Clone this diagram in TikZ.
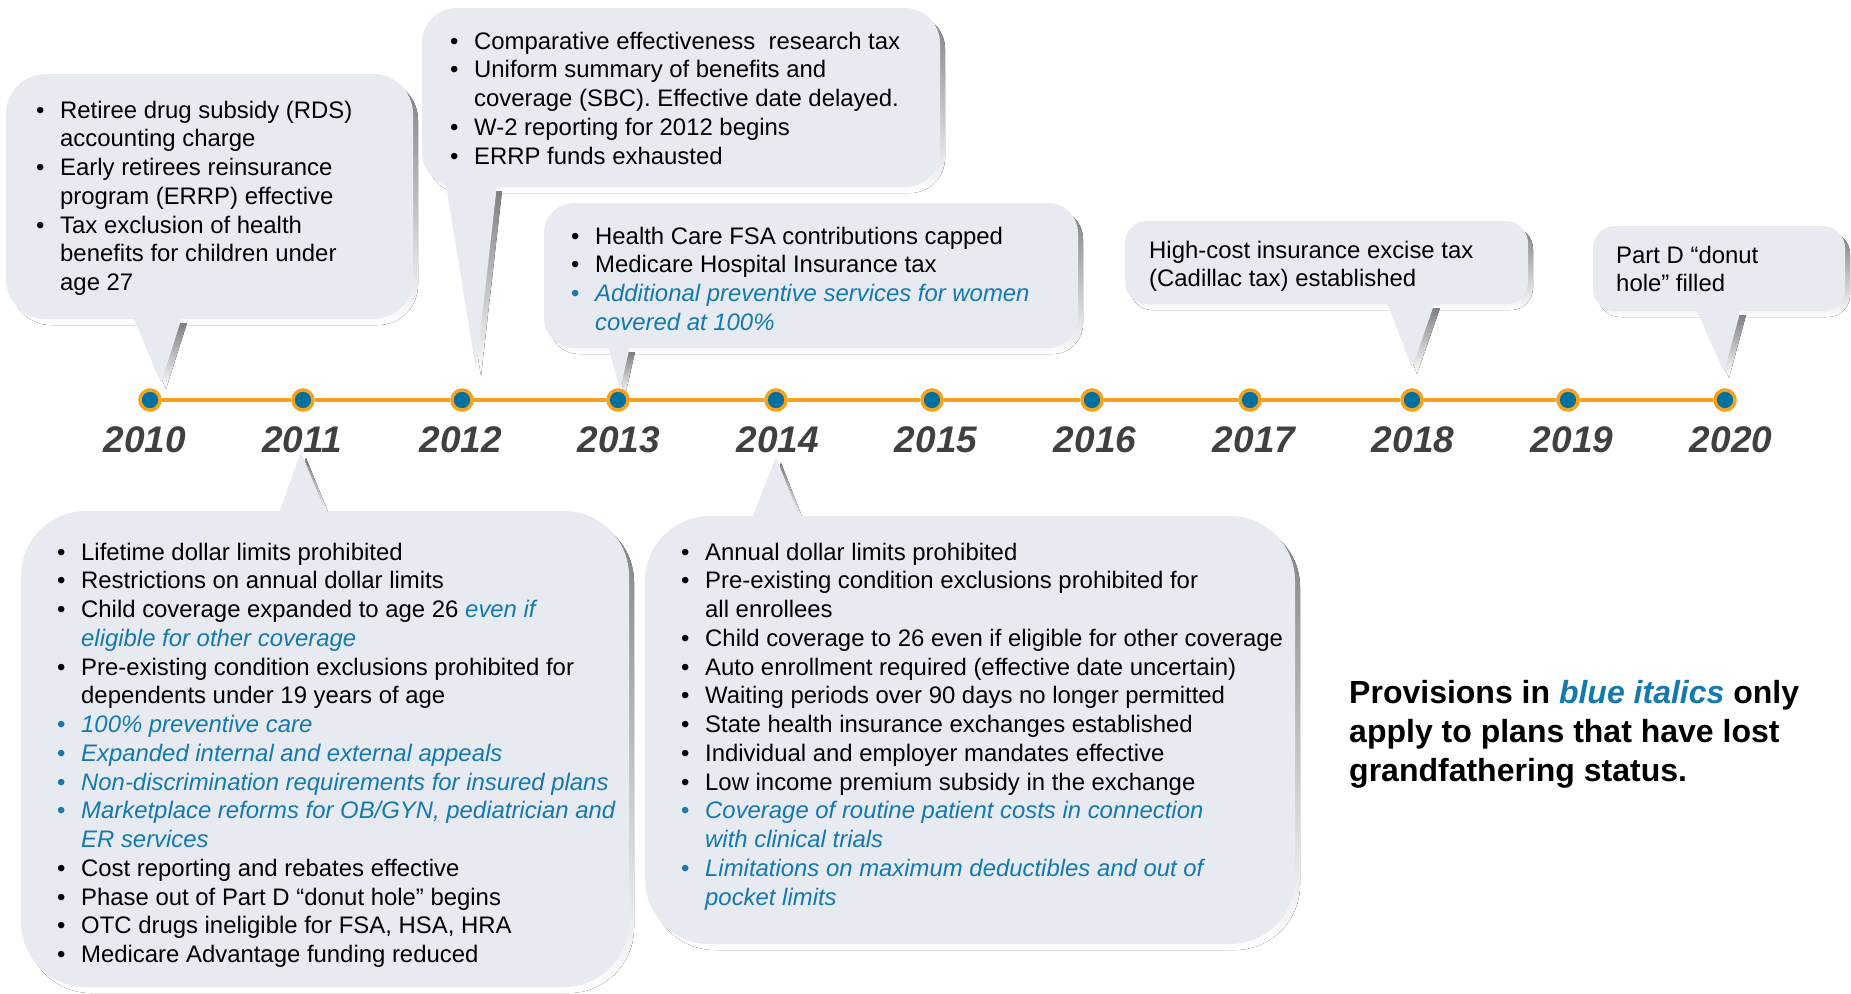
\documentclass[tikz,border=0pt]{standalone}
\usepackage{fontspec}
\setmainfont{Liberation Sans}
\usepackage{xcolor}
\definecolor{boxfill}{HTML}{E7EAF1}
\definecolor{shade}{HTML}{BEBEBE}
\definecolor{blu}{HTML}{1479AE}
\definecolor{orng}{HTML}{F7A01C}
\definecolor{dotblue}{HTML}{00709F}
\definecolor{yeargray}{HTML}{404040}

\newcommand\bi[1]{\par\hangindent=24pt\hangafter=1\noindent\makebox[24pt][l]{•}{\let\\\newline #1}}
\newcommand\bb[1]{\par\hangindent=24pt\hangafter=1\noindent{\color{blu}\makebox[24pt][l]{•}\itshape\let\\\newline #1}}
\newcommand\blu[1]{{\color{blu}\itshape #1}}

% #1,#2 rectangle corners, #3 radius, #4,#5 pointer base, #6 tip
\newcommand\callout[6]{%
  \fill[shade, shift={(5,6)}, rounded corners=#3] #1 rectangle #2;
  \fill[shade, shift={(5,6)}] #4 -- #6 -- #5 -- cycle;
  \fill[boxfill, rounded corners=#3] #1 rectangle #2;
  \fill[boxfill] #4 -- #6 -- #5 -- cycle;
}

\tikzset{
  txt/.style={anchor=base west, inner sep=0pt, font=\fontsize{23.9}{28.76}\selectfont},
  dotst/.style={circle, minimum size=20pt, inner sep=0pt, fill=dotblue, draw=orng, line width=3.5pt},
  tl/.style={draw=orng, line width=4pt},
  yearst/.style={anchor=base, inner sep=0pt, text=yeargray, font=\fontsize{37}{42}\selectfont\bfseries\itshape},
}

\begin{document}
\begin{tikzpicture}[x=1pt, y=-1pt]
\useasboundingbox (0,0) rectangle (1851,993);

% ---- callouts ----
\callout{(6,74)}{(413,319)}{40pt}{(133,317)}{(182,317)}{(161,383)}
\callout{(422,8)}{(940,187)}{35pt}{(446,185)}{(497,185)}{(476,370)}
\callout{(544,203)}{(1078,348)}{30pt}{(608,346)}{(630,346)}{(620,390)}
\callout{(1125,221)}{(1528,304)}{22pt}{(1387,302)}{(1435,302)}{(1412,368)}
\callout{(1593,226)}{(1845,311)}{22pt}{(1696,309)}{(1741,309)}{(1724,372)}
\callout{(21,511)}{(629,987)}{65pt}{(279,513)}{(326,513)}{(301,452)}
\callout{(645,516)}{(1295,944)}{65pt}{(752,518)}{(800,518)}{(776,457)}

% ---- timeline ----
\foreach \yr/\xx in {2010/150,2011/303,2012/462,2013/618,2014/776,2015/932,2016/1092,2017/1250,2018/1412,2019/1568,2020/1725}{
  \node[dotst] (d\yr) at (\xx,400) {};
}
\foreach \a/\b in {2010/2011,2011/2012,2012/2013,2013/2014,2014/2015,2015/2016,2016/2017,2017/2018,2018/2019,2019/2020}{
  \draw[tl] (d\a) -- (d\b);
}
\foreach \yr/\xx in {2010/145,2011/302,2012/461,2013/619,2014/778,2015/936,2016/1095,2017/1254,2018/1413,2019/1572,2020/1731}{
  \node[yearst] (y\yr) at (\xx,452) {\yr};
}

% ---- texts ----
\node[txt] (tA) at (36,118) {\begin{minipage}[t]{700pt}\raggedright
\bi{Retiree drug subsidy (RDS)\\accounting charge}
\bi{Early retirees reinsurance\\program (ERRP) effective}
\bi{Tax exclusion of health\\benefits for children under\\age 27}
\end{minipage}};

\node[txt] (tB) at (450,49) {\begin{minipage}[t]{700pt}\raggedright
\bi{Comparative effectiveness\ \ research tax}
\bi{Uniform summary of benefits and\\coverage (SBC). Effective date delayed.}
\bi{W-2 reporting for 2012 begins}
\bi{ERRP funds exhausted}
\end{minipage}};

\node[txt] (tC) at (571,244) {\begin{minipage}[t]{700pt}\raggedright
\bi{Health Care FSA contributions capped}
\bi{Medicare Hospital Insurance tax}
\bb{Additional preventive services for women\\covered at 100\%}
\end{minipage}};

\node[txt] (tD) at (1149,258) {\begin{minipage}[t]{500pt}\raggedright
High-cost insurance excise tax\\(Cadillac tax) established
\end{minipage}};

\node[txt] (tE) at (1616,263) {\begin{minipage}[t]{300pt}\raggedright
Part D “donut\\hole” filled
\end{minipage}};

\node[txt] (tF) at (57,560) {\begin{minipage}[t]{700pt}\raggedright
\bi{Lifetime dollar limits prohibited}
\bi{Restrictions on annual dollar limits}
\bi{Child coverage expanded to age 26 \blu{even if\\eligible for other coverage}}
\bi{Pre-existing condition exclusions prohibited for\\dependents under 19 years of age}
\bb{100\% preventive care}
\bb{Expanded internal and external appeals}
\bb{Non-discrimination requirements for insured plans}
\bb{Marketplace reforms for OB/GYN, pediatrician and\\ER services}
\bi{Cost reporting and rebates effective}
\bi{Phase out of Part D “donut hole” begins}
\bi{OTC drugs ineligible for FSA, HSA, HRA}
\bi{Medicare Advantage funding reduced}
\end{minipage}};

\node[txt] (tG) at (681,560) {\begin{minipage}[t]{700pt}\raggedright
\bi{Annual dollar limits prohibited}
\bi{Pre-existing condition exclusions prohibited for\\all enrollees}
\bi{Child coverage to 26 even if eligible for other coverage}
\bi{Auto enrollment required (effective date uncertain)}
\bi{Waiting periods over 90 days no longer permitted}
\bi{State health insurance exchanges established}
\bi{Individual and employer mandates effective}
\bi{Low income premium subsidy in the exchange}
\bb{Coverage of routine patient costs in connection\\with clinical trials}
\bb{Limitations on maximum deductibles and out of\\pocket limits}
\end{minipage}};

\node[anchor=base west, inner sep=0pt, font=\fontsize{32}{39}\selectfont\bfseries] (note) at (1349,703)
{\begin{minipage}[t]{500pt}\raggedright
Provisions in {\color{blu}\itshape blue italics} only\\apply to plans that have lost\\grandfathering status.
\end{minipage}};

\end{tikzpicture}
\end{document}
